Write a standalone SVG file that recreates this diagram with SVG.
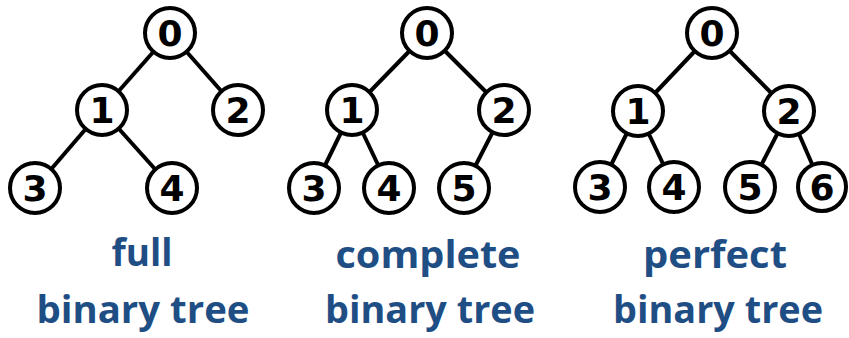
<svg xmlns="http://www.w3.org/2000/svg" width="849" height="338" viewBox="0 0 849 338">
<style>
.n circle{fill:#fff;stroke:#000;stroke-width:4}
.n text{font-family:"DejaVu Sans",sans-serif;font-weight:bold;font-size:36px;fill:#000;text-anchor:middle}
.e line{stroke:#000;stroke-width:4}
.lbl{font-family:"Open Sans","Liberation Sans",sans-serif;font-weight:bold;font-size:38px;fill:#1f4e85;text-anchor:middle}
</style>
<rect width="849" height="338" fill="#fff"/>
<g id="connectors" class="e">
<line x1="170" y1="33" x2="102" y2="110"/>
<line x1="170" y1="33" x2="238" y2="110"/>
<line x1="102" y1="110" x2="35" y2="188"/>
<line x1="102" y1="110" x2="172" y2="188"/>
<line x1="427" y1="33" x2="352" y2="110"/>
<line x1="427" y1="33" x2="504" y2="110"/>
<line x1="352" y1="110" x2="314" y2="188"/>
<line x1="352" y1="110" x2="389" y2="188"/>
<line x1="504" y1="110" x2="464" y2="188"/>
<line x1="712" y1="33" x2="638" y2="111"/>
<line x1="712" y1="33" x2="789" y2="111"/>
<line x1="638" y1="111" x2="600" y2="187"/>
<line x1="638" y1="111" x2="674" y2="187"/>
<line x1="789" y1="111" x2="750" y2="187"/>
<line x1="789" y1="111" x2="822" y2="187"/>
</g>
<g id="t1n0" class="n"><circle cx="170" cy="33" r="25"/><text x="170" y="46">0</text></g>
<g id="t1n1" class="n"><circle cx="102" cy="110" r="25"/><text x="102" y="123">1</text></g>
<g id="t1n2" class="n"><circle cx="238" cy="110" r="25"/><text x="238" y="123">2</text></g>
<g id="t1n3" class="n"><circle cx="35" cy="188" r="25"/><text x="35" y="201">3</text></g>
<g id="t1n4" class="n"><circle cx="172" cy="188" r="25"/><text x="172" y="201">4</text></g>
<g id="t2n0" class="n"><circle cx="427" cy="33" r="25"/><text x="427" y="46">0</text></g>
<g id="t2n1" class="n"><circle cx="352" cy="110" r="25"/><text x="352" y="123">1</text></g>
<g id="t2n2" class="n"><circle cx="504" cy="110" r="25"/><text x="504" y="123">2</text></g>
<g id="t2n3" class="n"><circle cx="314" cy="188" r="25"/><text x="314" y="201">3</text></g>
<g id="t2n4" class="n"><circle cx="389" cy="188" r="25"/><text x="389" y="201">4</text></g>
<g id="t2n5" class="n"><circle cx="464" cy="188" r="25"/><text x="464" y="201">5</text></g>
<g id="t3n0" class="n"><circle cx="712" cy="33" r="25"/><text x="712" y="46">0</text></g>
<g id="t3n1" class="n"><circle cx="638" cy="111" r="25"/><text x="638" y="124">1</text></g>
<g id="t3n2" class="n"><circle cx="789" cy="111" r="25"/><text x="789" y="124">2</text></g>
<g id="t3n3" class="n"><circle cx="600" cy="187" r="25"/><text x="600" y="200">3</text></g>
<g id="t3n4" class="n"><circle cx="674" cy="187" r="25"/><text x="674" y="200">4</text></g>
<g id="t3n5" class="n"><circle cx="750" cy="187" r="25"/><text x="750" y="200">5</text></g>
<g id="t3n6" class="n"><circle cx="822" cy="187" r="24"/><text x="822" y="200">6</text></g>
<g id="labels">
<text class="lbl" x="142" y="266" textLength="61" lengthAdjust="spacingAndGlyphs">full</text>
<text class="lbl" x="143" y="323" textLength="213" lengthAdjust="spacingAndGlyphs">binary tree</text>
<text class="lbl" x="428" y="268" textLength="185" lengthAdjust="spacingAndGlyphs">complete</text>
<text class="lbl" x="430" y="323" textLength="210" lengthAdjust="spacingAndGlyphs">binary tree</text>
<text class="lbl" x="715" y="268" textLength="144" lengthAdjust="spacingAndGlyphs">perfect</text>
<text class="lbl" x="718" y="323" textLength="210" lengthAdjust="spacingAndGlyphs">binary tree</text>
</g>
</svg>
